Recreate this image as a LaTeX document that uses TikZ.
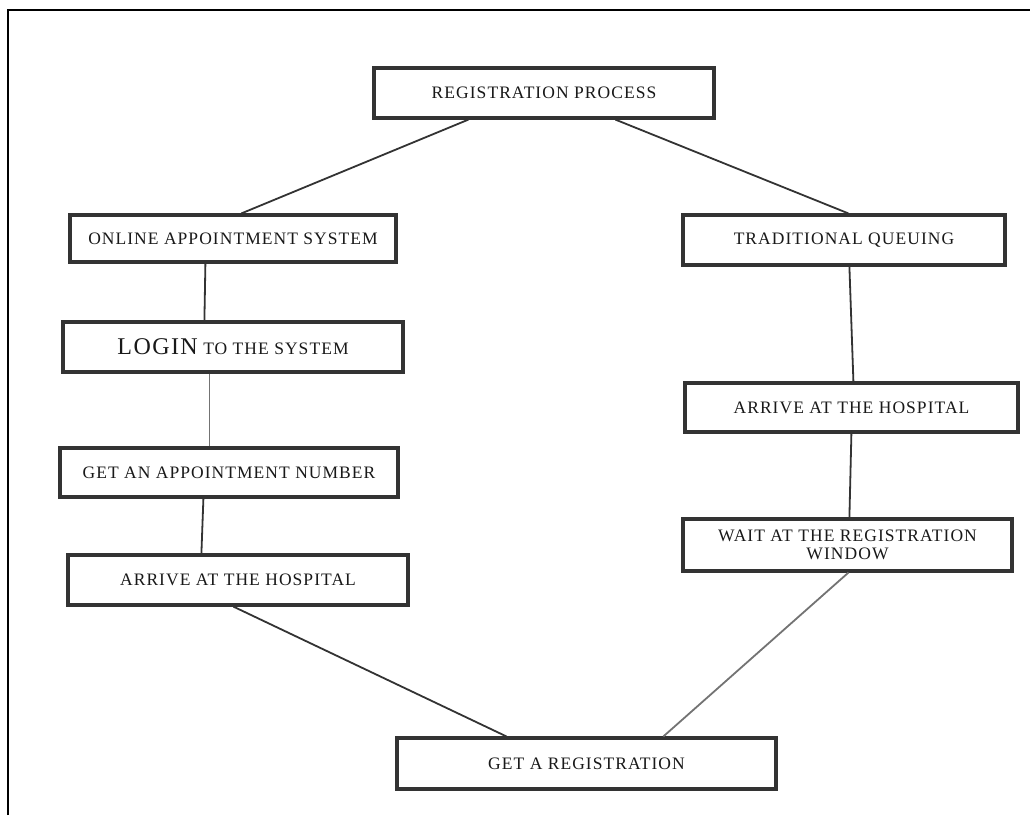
\documentclass[tikz,border=0pt]{standalone}
\usepackage{fontspec}
\setmainfont{Liberation Serif}[LetterSpace=6]
\begin{document}
\begin{tikzpicture}[x=1pt,y=-1pt,
  stepbox/.style={draw=black!80, line width=3.2pt, fill=white, inner sep=2pt,
    align=center, font=\fontsize{17.5}{18}\selectfont, text=black!90},
  link/.style={draw=black!80, line width=1.8pt},
  glink/.style={draw=black!55, line width=1.8pt}]
  \useasboundingbox (0,0) rectangle (1030,815);
  % frame
  \draw[line width=2.4pt] (8,815) -- (8,10) -- (1030,10);

  % process steps
  \node[stepbox, minimum width=340pt, minimum height=50pt] (rp)   at (544,93)    {REGISTRATION PROCESS};
  \node[stepbox, minimum width=326pt, minimum height=47pt] (oas)  at (233,238.5) {ONLINE APPOINTMENT SYSTEM};
  \node[stepbox, minimum width=322pt, minimum height=50pt] (tq)   at (844,240)   {TRADITIONAL QUEUING};
  \node[stepbox, minimum width=340pt, minimum height=50pt] (login) at (233,347)  {{\fontsize{24}{25}\selectfont LOGIN} TO THE SYSTEM};
  \node[stepbox, minimum width=338pt, minimum height=49pt] (gan)  at (229,472.5) {GET AN APPOINTMENT NUMBER};
  \node[stepbox, minimum width=340pt, minimum height=50pt] (ahl)  at (238,580)   {ARRIVE AT THE HOSPITAL};
  \node[stepbox, minimum width=333pt, minimum height=49pt] (ahr)  at (851.5,407.5) {ARRIVE AT THE HOSPITAL};
  \node[stepbox, minimum width=329pt, minimum height=52pt] (wait) at (847.5,545) {WAIT AT THE REGISTRATION\\WINDOW};
  \node[stepbox, minimum width=379pt, minimum height=51pt] (gr)   at (586.5,763.5) {GET A REGISTRATION};

  % connectors
  \draw[link]  ([xshift=96pt]rp.south west)  -- ([xshift=173pt]oas.north west);
  \draw[link]  ([xshift=243pt]rp.south west) -- ([xshift=167pt]tq.north west);
  \draw[link]  ([xshift=137pt]oas.south west) -- ([xshift=143pt]login.north west);
  \draw[glink] ([xshift=148pt]login.south west) -- ([xshift=151pt]gan.north west);
  \draw[link]  ([xshift=145pt]gan.south west) -- ([xshift=135pt]ahl.north west);
  \draw[link]  ([xshift=167pt]ahl.south west) -- ([xshift=111pt]gr.north west);
  \draw[link]  ([xshift=168pt]tq.south west) -- ([xshift=170pt]ahr.north west);
  \draw[link]  ([xshift=168pt]ahr.south west) -- ([xshift=168pt]wait.north west);
  \draw[glink] ([xshift=167pt]wait.south west) -- ([xshift=268pt]gr.north west);
\end{tikzpicture}
\end{document}
